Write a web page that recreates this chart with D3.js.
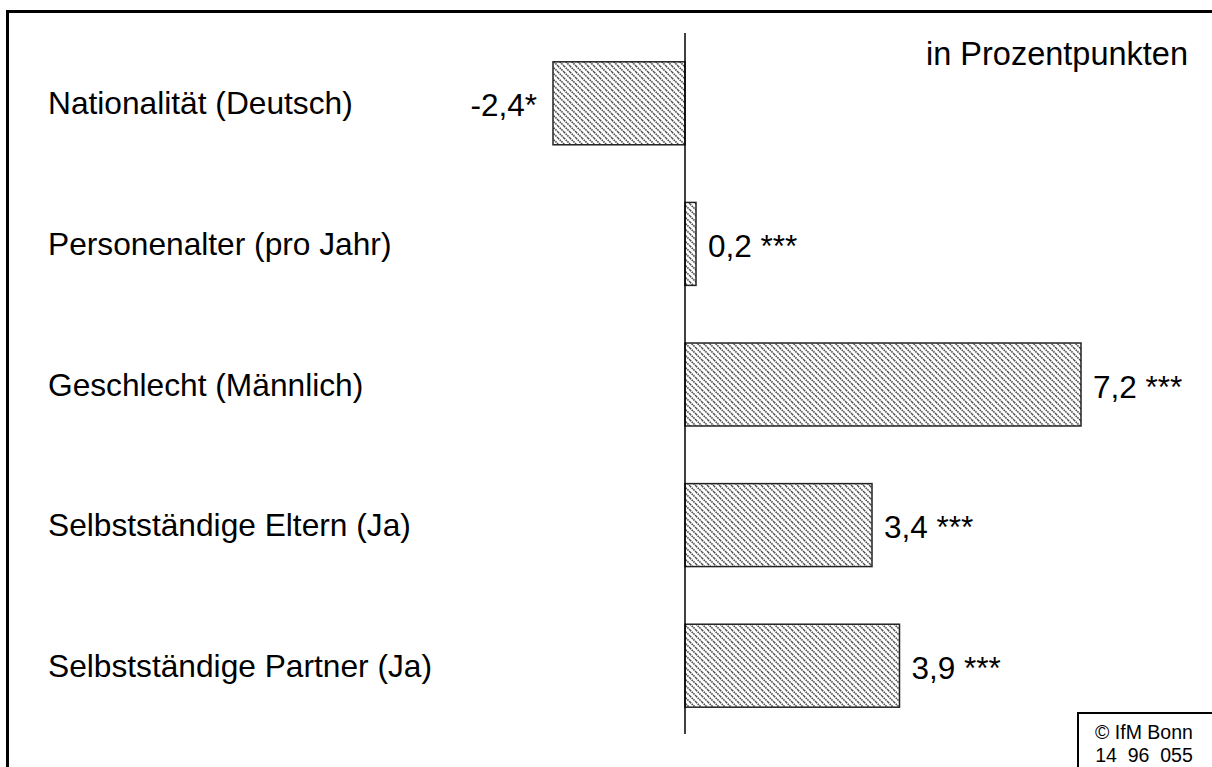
<!DOCTYPE html>
<html>
<head>
<meta charset="utf-8">
<script src="https://cdn.jsdelivr.net/npm/d3@7/dist/d3.min.js"></script>
<style>
    body { margin: 0; background: #fff; }
    svg { display: block; font-family: "Liberation Sans", Arial, sans-serif; }
</style>
</head>
<body>
<svg id="chart" width="1212" height="767"></svg>
<script>
    // Chart data
    var categories = [
        "Nationalität (Deutsch)",
        "Personenalter (pro Jahr)",
        "Geschlecht (Männlich)",
        "Selbstständige Eltern (Ja)",
        "Selbstständige Partner (Ja)"
    ];
    var values = [-2.4, 0.2, 7.2, 3.4, 3.9];
    var valueLabels = ["-2,4*", "0,2 ***", "7,2 ***", "3,4 ***", "3,9 ***"];

    var svg = d3.select("#chart");

    var x = d3.scaleLinear()
        .domain([-2.4, 7.2])
        .range([553, 1081]);

    var y = d3.scaleBand()
        .domain(categories)
        .range([33, 736])
        .paddingInner(0.41)
        .paddingOuter(0.205);

    // Hatch pattern
    var pattern = svg.append("defs")
        .append("pattern")
            .attr("id", "hatch")
            .attr("patternUnits", "userSpaceOnUse")
            .attr("width", 6)
            .attr("height", 6);
    pattern.append("path")
        .attr("d", "M0,0 L6,6 M-1,5 L1,7 M5,-1 L7,1")
        .attr("stroke", "#4a4a4a")
        .attr("stroke-width", 1.6)
        .attr("stroke-dasharray", "1.6,0.8");

    // Outer frame (top and left only)
    svg.append("path")
        .attr("d", "M7.5,767 L7.5,11.5 L1212,11.5")
        .attr("fill", "none")
        .attr("stroke", "#000")
        .attr("stroke-width", 3);

    // Bars
    svg.selectAll("rect.bar")
        .data(values)
        .enter().append("rect")
            .attr("class", "bar")
            .attr("x", function(d) { return x(Math.min(0, d)); })
            .attr("y", function(d, i) { return y(categories[i]); })
            .attr("width", function(d) { return Math.abs(x(d) - x(0)); })
            .attr("height", y.bandwidth())
            .attr("fill", "url(#hatch)")
            .attr("stroke", "#222")
            .attr("stroke-width", 1.5);

    // Zero line
    svg.append("line")
        .attr("x1", x(0)).attr("x2", x(0))
        .attr("y1", 33).attr("y2", 734)
        .attr("stroke", "#000")
        .attr("stroke-width", 1.5);

    // Category labels
    svg.selectAll("text.cat")
        .data(categories)
        .enter().append("text")
            .attr("class", "cat")
            .attr("x", 48)
            .attr("y", function(d) { return y(d) + y.bandwidth() / 2; })
            .attr("dy", "0.35em")
            .attr("font-size", 31.7)
            .text(function(d) { return d; });

    // Value labels
    svg.selectAll("text.val")
        .data(values)
        .enter().append("text")
            .attr("class", "val")
            .attr("x", function(d) { return d < 0 ? x(d) - 16 : x(d) + 12; })
            .attr("y", function(d, i) { return y(categories[i]) + y.bandwidth() / 2 + 2; })
            .attr("dy", "0.35em")
            .attr("text-anchor", function(d) { return d < 0 ? "end" : "start"; })
            .attr("font-size", 31.5)
            .text(function(d, i) { return valueLabels[i]; });

    // Unit note
    svg.append("text")
        .attr("x", 1188)
        .attr("y", 65)
        .attr("text-anchor", "end")
        .attr("font-size", 32.5)
        .text("in Prozentpunkten");

    // Source box
    svg.append("path")
        .attr("d", "M1078,767 L1078,713 L1212,713")
        .attr("fill", "none")
        .attr("stroke", "#000")
        .attr("stroke-width", 2);
    svg.append("text")
        .attr("x", 1144).attr("y", 739)
        .attr("text-anchor", "middle")
        .attr("font-size", 19.5)
        .text("© IfM Bonn");
    svg.append("text")
        .attr("x", 1144).attr("y", 762)
        .attr("text-anchor", "middle")
        .attr("font-size", 19.5)
        .attr("xml:space", "preserve")
        .text("14  96  055");
</script>
</body>
</html>
